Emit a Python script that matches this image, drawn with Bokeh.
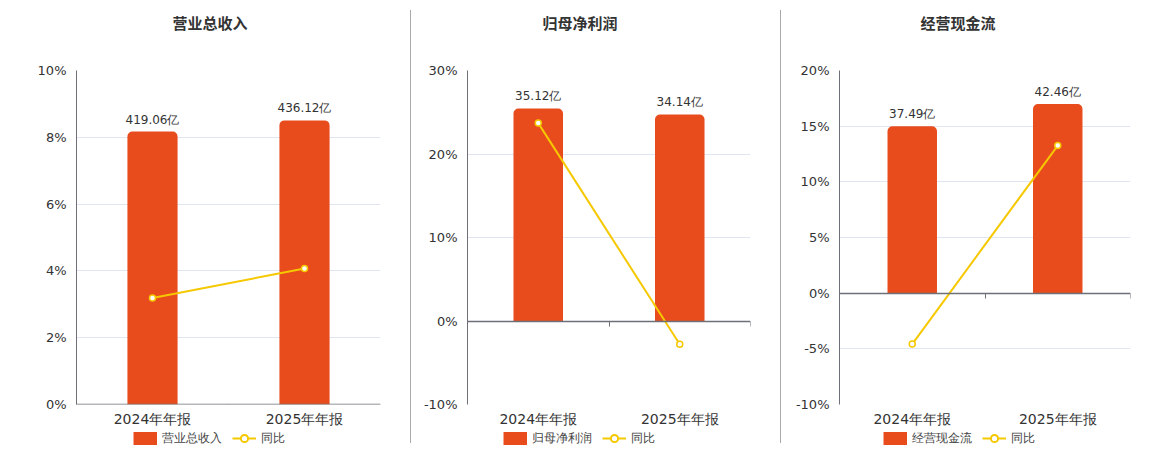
from bokeh.plotting import figure
from bokeh.models import (Range1d, LinearAxis, FixedTicker, PrintfTickFormatter,
                          Legend, LegendItem, Label, Div)
from bokeh.layouts import row, column
from bokeh.core.properties import value
from bokeh.embed import file_html
from bokeh.resources import INLINE

# ---- data ----
categories = ["2024年年报", "2025年年报"]

revenue_title = "营业总收入"
revenue = [419.06, 436.12]          # 亿
revenue_yoy = [3.19, 4.07]          # %
revenue_ticks = [0, 2, 4, 6, 8, 10]

profit_title = "归母净利润"
profit = [35.12, 34.14]
profit_yoy = [23.7, -2.79]
profit_ticks = [-10, 0, 10, 20, 30]

cash_title = "经营现金流"
cash = [37.49, 42.46]
cash_yoy = [-4.57, 13.26]
cash_ticks = [-10, -5, 0, 5, 10, 15, 20]

yoy_name = "同比"
unit = "亿"

BAR = "#E84C1D"
LINE = "#F5C800"
AXIS = "#6E7079"
GRID = "#E0E6F1"
TEXT = "#333333"
FONT = "DejaVu Sans"

n = len(categories)
xpos = [i + 0.5 for i in range(n)]   # category centres on a 0..n band scale
bounds = list(range(n + 1))          # category boundaries
NAN = float("nan")                   # legend-only proxy renderers carry no visible data


def blank(w, h, bl, br):
    f = figure(width=w, height=h, x_range=Range1d(0, 1), y_range=Range1d(0, 1),
               x_axis_type=None, y_axis_type=None, output_backend="svg",
               toolbar_location=None, min_border=0, title_location=None,
               min_border_left=bl, min_border_right=br)
    f.outline_line_color = None
    f.xgrid.visible = False
    f.ygrid.visible = False
    return f


def panel(title, amounts, yoy, yticks, bar_hi, fig_w, bl, br, title_x, legend_x, bar_w):
    ylo, yhi = yticks[0], yticks[-1]
    bar_lo = bar_hi * ylo / yhi

    # --- title strip (frame aligned with the chart frame) ---
    tf = blank(fig_w, 50, bl, br)
    tf.add_layout(Label(x=title_x - bl, y=28, x_units="screen", y_units="screen", text=title,
                        text_align="left", text_baseline="middle",
                        text_font="Noto Sans CJK SC", text_font_style="bold",
                        text_font_size="15px", text_color=TEXT))

    # --- main chart ---
    p = figure(width=fig_w, height=379,
               x_range=Range1d(0, n), y_range=Range1d(ylo, yhi),
               output_backend="svg", toolbar_location=None, title_location=None,
               min_border_left=bl, min_border_right=br,
               min_border_top=20, min_border_bottom=24)
    p.outline_line_color = None
    p.extra_y_ranges = {"bar": Range1d(bar_lo, bar_hi)}

    xa = p.xaxis[0]
    xa.ticker = FixedTicker(ticks=xpos)
    xa.major_label_overrides = {x: c for x, c in zip(xpos, categories)}
    xa.axis_line_color = None
    xa.major_tick_line_color = None
    xa.minor_tick_line_color = None
    xa.major_label_text_font_size = "14px"
    xa.major_label_text_color = TEXT
    xa.major_label_text_font = FONT
    xa.major_label_standoff = 6
    xa.major_tick_out = 0
    xa.major_tick_in = 0

    ya = p.yaxis[0]
    ya.ticker = FixedTicker(ticks=yticks)
    ya.formatter = PrintfTickFormatter(format="%d%%")
    ya.axis_line_color = AXIS
    ya.major_tick_line_color = None
    ya.minor_tick_line_color = None
    ya.major_label_text_font_size = "13px"
    ya.major_label_text_color = TEXT
    ya.major_label_text_font = FONT
    ya.major_label_standoff = 4

    p.xgrid.grid_line_color = None
    p.ygrid.ticker = FixedTicker(ticks=yticks)
    p.ygrid.grid_line_color = GRID

    za = LinearAxis(fixed_location=0, ticker=FixedTicker(ticks=bounds),
                    major_label_overrides={b: "" for b in bounds},
                    major_label_text_font_size="1px",
                    axis_line_color=AXIS, axis_line_width=1.5,
                    major_tick_line_color=AXIS, major_tick_out=5, major_tick_in=0,
                    minor_tick_line_color=None)
    p.add_layout(za, "below")

    p.vbar(x=xpos, top=amounts, width=bar_w, bottom=0, y_range_name="bar",
           fill_color=BAR, line_color=None, border_radius=(5, 5, 0, 0))
    p.text(x=xpos, y=amounts, text=[f"{v:.2f}{unit}" for v in amounts],
           y_range_name="bar", y_offset=-5, text_align="center", text_baseline="bottom",
           text_font=value(FONT), text_font_size="12px", text_color=TEXT)
    p.line(x=xpos, y=yoy, line_color=LINE, line_width=2)
    p.scatter(x=xpos, y=yoy, size=6, fill_color="white", line_color=LINE, line_width=1.5)

    # --- legend strip ---
    lf = blank(fig_w, 18, bl, br)
    bar_key = lf.line(x=[NAN], y=[NAN], line_color=BAR, line_width=13)
    line_key = lf.line(x=[NAN], y=[NAN], line_color=LINE, line_width=2)
    dot_key = lf.scatter(x=[NAN], y=[NAN], fill_color="white", line_color=LINE, line_width=2)
    lf.add_layout(Legend(items=[LegendItem(label=title, renderers=[bar_key]),
                                LegendItem(label=yoy_name, renderers=[line_key, dot_key])],
                         location=(legend_x - bl, 0), orientation="horizontal",
                         border_line_color=None, background_fill_alpha=0, padding=0, margin=0,
                         glyph_width=24, glyph_height=18, label_height=18, label_standoff=5,
                         spacing=10, label_text_font_size="12px", label_text_color="#444444",
                         label_text_font=FONT))

    return column(tf, p, lf, spacing=0)


c1 = panel(revenue_title, revenue, revenue_yoy, revenue_ticks, 512.7, 410, 76, 30, 172, 133, 0.33)
c2 = panel(profit_title, profit, profit_yoy, profit_ticks, 41.4, 369, 56, 30, 131, 92, 0.35)
c3 = panel(cash_title, cash, cash_yoy, cash_ticks, 50.0, 375, 58, 26, 139, 102, 0.34)


def sep():
    return Div(text="", width=1, height=433, margin=(10, 0, 0, 0),
               styles={"background-color": "#AAAAAA"})


layout = row(c1, sep(), c2, sep(), c3, spacing=0)
open("out.html", "w").write(file_html(layout, INLINE))
